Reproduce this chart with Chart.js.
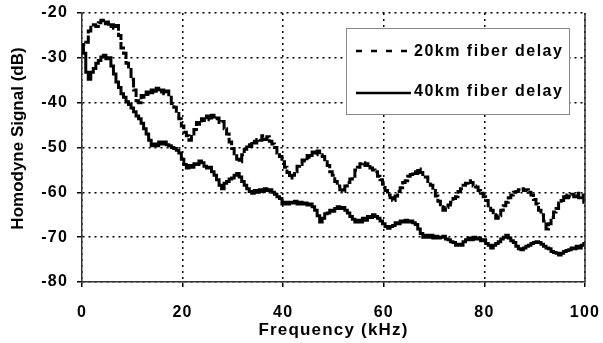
<!DOCTYPE html>
<html><head><meta charset="utf-8">
<script src="https://cdn.jsdelivr.net/npm/chart.js@4/dist/chart.umd.min.js"></script>
<style>html,body{margin:0;padding:0;background:#fff}#wrap{position:relative;width:603px;height:343px}</style>
</head><body><div id="wrap"><canvas id="c" width="603" height="343"></canvas></div>
<script>
// Sampling step of the frequency grid (kHz)
const STEP_KHZ = 0.5;

// 20 km fiber delay (dashed), every 0.5 kHz, 0..100 kHz
const series20km = [
-28.5,-27.0,-26.5,-24.0,-23.2,-22.6,-23.0,-22.2,-21.6,-22.4,
-22.0,-23.0,-22.6,-23.4,-22.8,-25.0,-27.8,-29.0,-31.2,-32.6,
-34.8,-37.2,-39.6,-40.0,-38.4,-38.8,-37.6,-38.2,-37.2,-37.8,
-36.8,-37.6,-37.2,-38.0,-37.4,-38.8,-40.2,-41.0,-42.4,-43.6,
-45.2,-46.6,-47.4,-48.4,-47.0,-46.0,-44.4,-44.8,-43.6,-44.0,
-43.0,-43.8,-42.8,-43.6,-43.4,-44.4,-44.2,-45.8,-47.0,-48.8,
-50.2,-51.4,-52.6,-53.2,-51.6,-50.4,-49.4,-49.8,-48.6,-49.0,
-48.2,-48.4,-47.4,-48.2,-47.6,-48.6,-49.2,-50.0,-51.2,-52.0,
-53.2,-54.4,-55.6,-56.8,-56.2,-55.4,-54.2,-53.8,-52.8,-53.0,
-51.8,-52.2,-51.0,-51.6,-50.8,-51.6,-52.0,-53.2,-54.0,-55.4,
-56.2,-57.6,-58.6,-59.4,-59.8,-58.6,-57.8,-57.0,-56.4,-55.0,
-54.4,-53.6,-53.4,-54.0,-53.6,-54.6,-55.0,-55.4,-56.4,-57.2,
-58.2,-59.6,-60.6,-61.2,-61.8,-60.8,-59.8,-59.0,-57.8,-57.4,
-56.4,-56.0,-55.4,-55.8,-54.8,-55.6,-56.0,-56.6,-57.6,-58.4,
-59.6,-60.8,-62.0,-63.2,-64.0,-63.4,-62.8,-62.2,-61.4,-61.0,
-59.8,-59.2,-58.4,-58.0,-57.4,-57.8,-58.6,-58.8,-59.6,-60.2,
-61.0,-61.8,-63.0,-64.0,-65.0,-65.8,-65.2,-64.0,-63.0,-62.2,
-61.2,-60.6,-60.0,-59.8,-59.4,-59.2,-59.6,-59.4,-60.0,-60.6,
-61.6,-62.6,-64.0,-65.0,-66.4,-68.2,-67.0,-65.6,-64.4,-63.6,
-62.4,-61.8,-60.6,-61.2,-60.8,-60.4,-61.0,-60.2,-61.2,-60.6,
-62.2
];

// 40 km fiber delay (solid), every 0.5 kHz, 0..100 kHz
const series40km = [
-27.8,-29.0,-33.2,-34.8,-33.2,-32.4,-31.2,-30.6,-29.8,-29.4,
-30.2,-30.0,-31.8,-33.6,-35.4,-36.6,-38.0,-38.8,-39.8,-40.4,
-41.2,-42.0,-43.0,-43.6,-44.6,-45.8,-47.0,-48.4,-49.6,-49.2,
-49.6,-48.8,-49.2,-48.8,-49.4,-49.6,-50.0,-50.2,-50.6,-51.2,
-52.6,-53.8,-54.6,-54.0,-54.4,-53.6,-53.8,-53.0,-53.4,-54.2,
-54.6,-54.4,-55.4,-56.2,-57.2,-58.4,-59.2,-58.0,-57.6,-57.0,
-56.8,-56.2,-55.8,-56.6,-57.6,-58.4,-59.2,-59.8,-60.2,-59.6,
-60.0,-59.4,-59.8,-59.2,-59.6,-59.4,-60.0,-60.4,-61.0,-61.4,
-62.6,-62.2,-62.6,-62.2,-62.4,-62.0,-62.6,-62.2,-62.6,-62.4,
-62.8,-62.6,-63.2,-64.0,-65.2,-66.6,-65.8,-64.8,-64.6,-64.0,
-64.2,-63.6,-63.2,-63.6,-63.4,-64.0,-64.6,-65.4,-66.0,-66.6,
-66.2,-66.6,-65.8,-66.2,-65.4,-65.6,-65.0,-65.4,-65.8,-66.4,
-67.0,-67.6,-68.0,-67.6,-67.4,-66.8,-67.0,-66.4,-66.6,-66.2,
-66.6,-66.4,-66.8,-67.2,-68.2,-69.2,-70.0,-69.6,-70.0,-69.6,
-70.2,-69.8,-70.2,-70.0,-69.8,-70.4,-70.6,-71.0,-71.2,-71.8,
-71.6,-71.8,-71.0,-70.6,-70.2,-70.6,-70.0,-70.4,-70.2,-70.8,
-70.6,-71.4,-71.8,-72.4,-71.8,-71.4,-71.0,-70.4,-70.0,-69.6,
-70.2,-70.8,-71.2,-72.0,-72.6,-72.8,-72.4,-72.0,-71.8,-71.4,
-71.2,-71.0,-71.2,-71.6,-72.0,-72.4,-72.6,-73.2,-73.4,-73.6,
-74.0,-73.6,-73.2,-73.0,-72.8,-72.4,-72.6,-72.0,-72.4,-71.8,
-71.4
];

const xTicks = [0, 20, 40, 60, 80, 100];
const yTicks = [-80, -70, -60, -50, -40, -30, -20];
const legendLabels = ['20km fiber delay', '40km fiber delay'];
const xTitle = 'Frequency (kHz)';
const yTitle = 'Homodyne Signal (dB)';

const FONT = "'Liberation Sans', Arial, Helvetica, sans-serif";

const toPoints = arr => arr.map((v, i) => ({ x: i * STEP_KHZ, y: v }));

const spacingPlugin = {
  id: 'spacing',
  beforeUpdate(c) { c.ctx.letterSpacing = '1.2px'; },
  beforeDraw(c) { c.ctx.letterSpacing = '1.2px'; }
};

const decorPlugin = {
  id: 'decor',
  afterDraw(c) {
    const ctx = c.ctx, a = c.chartArea;
    ctx.save();
    // right frame line (solid)
    ctx.setLineDash([]);
    ctx.strokeStyle = '#333';
    ctx.lineWidth = 1.5;
    ctx.beginPath();
    ctx.moveTo(a.right, a.top);
    ctx.lineTo(a.right, a.bottom);
    ctx.stroke();

    // y-axis title
    ctx.letterSpacing = '0px';
    ctx.font = 'bold 17px ' + FONT;
    ctx.fillStyle = '#000';
    ctx.textAlign = 'center';
    ctx.textBaseline = 'middle';
    ctx.translate(18.5, 138.5);
    ctx.rotate(-Math.PI / 2);
    ctx.fillText(yTitle, 0, 0);
    ctx.restore();

    // legend box
    ctx.save();
    ctx.fillStyle = '#fff';
    ctx.fillRect(346.5, 28.5, 223, 86);
    ctx.strokeStyle = '#888';
    ctx.lineWidth = 1;
    ctx.strokeRect(346.5, 28.5, 223, 86);

    ctx.strokeStyle = '#000';
    ctx.lineWidth = 2.5;
    ctx.setLineDash([6, 9]);
    ctx.beginPath();
    ctx.moveTo(356, 51);
    ctx.lineTo(412, 51);
    ctx.stroke();
    ctx.setLineDash([]);
    ctx.beginPath();
    ctx.moveTo(356, 93);
    ctx.lineTo(411, 93);
    ctx.stroke();

    ctx.letterSpacing = '1.5px';
    ctx.font = 'bold 16px ' + FONT;
    ctx.fillStyle = '#000';
    ctx.textAlign = 'left';
    ctx.textBaseline = 'middle';
    ctx.fillText(legendLabels[0], 414, 52);
    ctx.fillText(legendLabels[1], 414, 92);
    ctx.restore();
  }
};

new Chart(document.getElementById('c'), {
  type: 'line',
  data: {
    datasets: [
      { label: legendLabels[0], data: toPoints(series20km), borderColor: '#000', borderWidth: 3,
        borderDash: [10, 2], stepped: 'middle', pointRadius: 0, tension: 0, fill: false },
      { label: legendLabels[1], data: toPoints(series40km), borderColor: '#000', borderWidth: 3,
        stepped: 'middle', pointRadius: 0, tension: 0, fill: false }
    ]
  },
  options: {
    responsive: false,
    animation: false,
    devicePixelRatio: 1,
    layout: { padding: { left: 0, right: 18, top: 13, bottom: 0 } },
    plugins: { legend: { display: false }, tooltip: { enabled: false } },
    scales: {
      x: {
        type: 'linear', min: 0, max: 100,
        afterBuildTicks: s => { s.ticks = xTicks.map(v => ({ value: v })); },
        afterFit: s => { s.height = 61; s.paddingLeft = 0; s.paddingRight = 0; },
        ticks: { font: { family: FONT, size: 16, weight: 'bold' }, color: '#000', padding: 16, maxRotation: 0 },
        grid: { color: '#000', lineWidth: 1.5, tickLength: 5, tickColor: '#000', tickWidth: 1.5 },
        border: { display: true, color: '#333', width: 1.5, dash: [2, 4] },
        title: { display: true, text: xTitle, color: '#000',
                 font: { family: FONT, size: 17, weight: 'bold' }, padding: { top: 0, bottom: 2 } }
      },
      y: {
        min: -80, max: -20,
        afterBuildTicks: s => { s.ticks = yTicks.map(v => ({ value: v })); },
        afterFit: s => { s.width = 82; s.paddingTop = 0; s.paddingBottom = 0; },
        ticks: { font: { family: FONT, size: 16, weight: 'bold' }, color: '#000', padding: 9 },
        grid: { color: '#000', lineWidth: 1.5, tickLength: 5, tickColor: '#000', tickWidth: 1.5 },
        border: { display: true, color: '#333', width: 1.5, dash: [2, 4] }
      }
    }
  },
  plugins: [spacingPlugin, decorPlugin]
});
</script>
</body></html>
